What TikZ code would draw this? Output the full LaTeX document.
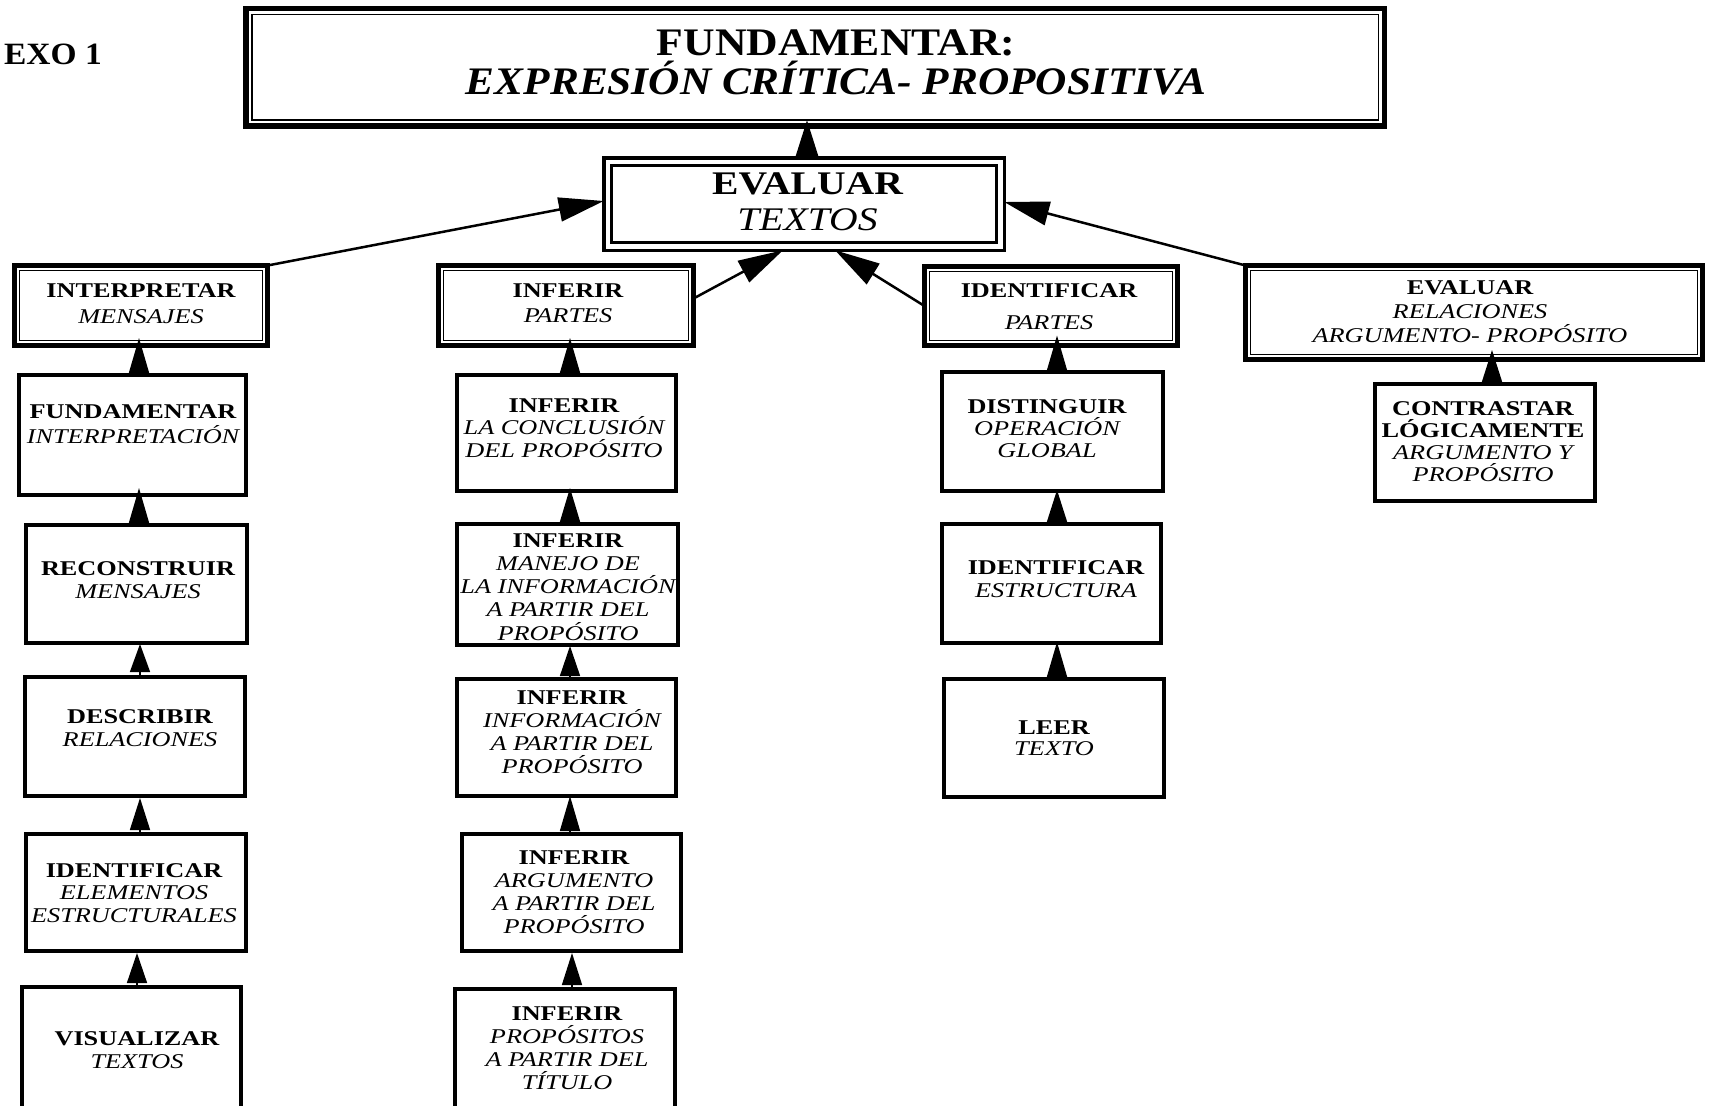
\documentclass[tikz,border=0pt]{standalone}
\usepackage{fontspec}
\setmainfont{Liberation Serif}
\newfontfamily\bxf[FakeStretch=1.25]{Liberation Serif}
\newfontfamily\tfa[FakeStretch=1.12]{Liberation Serif}
\newfontfamily\tfb[FakeStretch=1.11]{Liberation Serif}
\newfontfamily\evf[FakeStretch=1.2]{Liberation Serif}
\newfontfamily\anf[FakeStretch=1.08]{Liberation Serif}
\usetikzlibrary{arrows.meta}
\newcommand\fstr{\rule{0pt}{16pt}}
\newcommand\lstr{\rule[-6pt]{0pt}{6pt}}
\newcommand\innerrect[3]{\draw[line width=#3] ([shift={(#2,-#2)}]#1.north west) rectangle ([shift={(-#2,#2)}]#1.south east);}
\tikzset{
 sbox/.style={draw, line width=4pt, outer sep=0pt, inner sep=0pt},
 dbox/.style={draw, line width=5pt, outer sep=0pt, inner sep=0pt},
 txt/.style={align=center, inner sep=0pt, font=\bxf\fontsize{21}{#1}\selectfont},
 txt/.default=23,
 carrow/.style={line width=1.5pt, -{Triangle[length=#1,width=20pt]}},
 darrow/.style={line width=2.5pt, -{Triangle[length=45pt,width=24pt]}},
}
\begin{document}
\begin{tikzpicture}[x=1pt,y=-1pt]
\useasboundingbox (0,0) rectangle (1712,1105);
\fill[white] (0,0) rectangle (1712,1105);
\clip (0,0) rectangle (1712,1105);

% heading
\node[anchor=base east, inner sep=0pt, font=\anf\fontsize{31}{31}\selectfont\bfseries] (anx) at (102,65) {EXO 1};

% top boxes
\node[draw, line width=5.5pt, outer sep=0pt, inner sep=0pt, minimum width=1138.5pt, minimum height=117.5pt] (T) at (815,67.5) {};
\innerrect{T}{6pt}{1.5pt}
\node[draw, line width=3.5pt, outer sep=0pt, inner sep=0pt, minimum width=400.5pt, minimum height=92.5pt] (EV) at (804,204) {};
\innerrect{EV}{8pt}{3pt}

% level 2
\node[dbox, minimum width=253pt, minimum height=80pt] (A) at (141,305.5) {};
\node[dbox, minimum width=255pt, minimum height=80pt] (B) at (566,305.5) {};
\node[dbox, minimum width=253pt, minimum height=79pt] (C) at (1051,306) {};
\node[dbox, minimum width=457pt, minimum height=94pt] (D) at (1474,312.5) {};
\innerrect{A}{5pt}{1.5pt}
\innerrect{B}{5pt}{1.5pt}
\innerrect{C}{5pt}{1.5pt}
\innerrect{D}{5pt}{1.5pt}

% columns
\node[sbox, minimum width=227pt, minimum height=120pt] (L1) at (132.5,435) {};
\node[sbox, minimum width=221pt, minimum height=118pt] (L2) at (136.5,584) {};
\node[sbox, minimum width=220pt, minimum height=119pt] (L3) at (135,736.5) {};
\node[sbox, minimum width=220pt, minimum height=117pt] (L4) at (136,892.5) {};
\node[sbox, minimum width=219pt, minimum height=146pt] (L5) at (131.5,1060) {};
\node[sbox, minimum width=219pt, minimum height=116pt] (C1) at (566.5,433) {};
\node[sbox, minimum width=221pt, minimum height=121pt] (C2) at (567.5,584.5) {};
\node[sbox, minimum width=219pt, minimum height=117pt] (C3) at (566.5,737.5) {};
\node[sbox, minimum width=219pt, minimum height=117pt] (C4) at (571.5,892.5) {};
\node[sbox, minimum width=220pt, minimum height=144pt] (C5) at (565,1061) {};
\node[sbox, minimum width=221pt, minimum height=119pt] (R1) at (1052.5,431.5) {};
\node[sbox, minimum width=219pt, minimum height=119pt] (R2) at (1051.5,583.5) {};
\node[sbox, minimum width=220pt, minimum height=118pt] (R3) at (1054,738) {};
\node[sbox, minimum width=220pt, minimum height=117pt] (K) at (1485,442.5) {};

% diagonal connectors
\draw[darrow] (A.north east) -- ([yshift=3pt]EV.west);
\draw[darrow] ([yshift=7pt]B.east) -- ([xshift=-21pt]EV.south);
\draw[darrow] (C.west) -- ([xshift=31pt]EV.south);
\draw[darrow] (D.north west) -- ([yshift=2pt]EV.east);

% vertical connectors
\draw[line width=1.5pt, -{Triangle[length=37pt,width=23pt]}, shorten >=-6pt] ([xshift=3pt]EV.north) -- ([xshift=-8pt]T.south);
\draw[carrow=35pt, shorten >=-7.5pt] ([xshift=6.5pt]L1.north) -- ([xshift=-2pt]A.south);
\draw[carrow=35pt, shorten >=-7pt] ([xshift=2.5pt]L2.north) -- ([xshift=6.5pt]L1.south);
\draw[carrow=28pt, shorten >=1pt] ([xshift=5pt]L3.north) -- ([xshift=3.5pt]L2.south);
\draw[carrow=32pt, shorten >=2pt] ([xshift=4pt]L4.north) -- ([xshift=5pt]L3.south);
\draw[carrow=30pt, shorten >=2pt] ([xshift=5.5pt]L5.north) -- ([xshift=1pt]L4.south);
\draw[carrow=35pt, shorten >=-7.5pt] ([xshift=3.5pt]C1.north) -- ([xshift=4pt]B.south);
\draw[carrow=34pt, shorten >=-3pt] ([xshift=2.5pt]C2.north) -- ([xshift=3.5pt]C1.south);
\draw[carrow=30pt, shorten >=1pt] ([xshift=3.5pt]C3.north) -- ([xshift=2.5pt]C2.south);
\draw[carrow=35pt, shorten >=0pt] ([xshift=-1.5pt]C4.north) -- ([xshift=3.5pt]C3.south);
\draw[carrow=32pt, shorten >=2pt] ([xshift=7pt]C5.north) -- ([xshift=0.5pt]C4.south);
\draw[carrow=35pt, shorten >=-10pt] ([xshift=4.5pt]R1.north) -- ([xshift=6pt]C.south);
\draw[carrow=32pt, shorten >=-1pt] ([xshift=5.5pt]R2.north) -- ([xshift=4.5pt]R1.south);
\draw[carrow=35pt, shorten >=-1pt] ([xshift=3pt]R3.north) -- ([xshift=5.5pt]R2.south);
\draw[carrow=32pt, shorten >=-9.5pt] ([xshift=7pt]K.north) -- ([xshift=18pt]D.south);

% texts
\node[align=center, inner sep=0pt, font=\fontsize{39}{39}\selectfont] (Tt) at (836,65.5)
 {\tfa\bfseries\rule{0pt}{30pt}FUNDAMENTAR:\\\tfb\bfseries\itshape EXPRESIÓN CRÍTICA- PROPOSITIVA\rule[-10pt]{0pt}{10pt}};
\node[align=center, inner sep=0pt, font=\evf\fontsize{33}{36}\selectfont] (EVt) at (807.5,204)
 {\evf\bfseries\rule{0pt}{24pt}EVALUAR\\\evf\itshape TEXTOS\rule[-8pt]{0pt}{8pt}};

\node[txt=26] (At) at (141,305) {\bfseries\fstr INTERPRETAR\\\itshape MENSAJES\lstr};
\node[txt=25] (Bt) at (568,304.5) {\bfseries\fstr INFERIR\\\itshape PARTES\lstr};
\node[txt=32] (Ct) at (1049,308) {\bfseries\fstr IDENTIFICAR\\\itshape PARTES\lstr};
\node[txt=24] (Dt) at (1470,313) {\bfseries\fstr EVALUAR\\\itshape RELACIONES\\\itshape ARGUMENTO- PROPÓSITO\lstr};

\node[txt=25.5] (L1t) at (133,425.75) {\bfseries\fstr FUNDAMENTAR\\\itshape INTERPRETACIÓN\lstr};
\node[txt] (L2t) at (138,581.5) {\bfseries\fstr RECONSTRUIR\\\itshape MENSAJES\lstr};
\node[txt] (L3t) at (140,729.5) {\bfseries\fstr DESCRIBIR\\\itshape RELACIONES\lstr};
\node[txt=22.5] (L4t) at (134,894.5) {\bfseries\fstr IDENTIFICAR\\\itshape ELEMENTOS\\\itshape ESTRUCTURALES\lstr};
\node[txt] (L5t) at (137,1051.5) {\bfseries\fstr VISUALIZAR\\\itshape TEXTOS\lstr};

\node[txt=22.5] (C1t) at (564,429.5) {\bfseries\fstr INFERIR\\\itshape LA CONCLUSIÓN\\\itshape DEL PROPÓSITO\lstr};
\node[txt=23.25] (C2t) at (568,588.5) {\bfseries\fstr INFERIR\\\itshape MANEJO DE\\\itshape LA INFORMACIÓN\\\itshape A PARTIR DEL\\\itshape PROPÓSITO\lstr};
\node[txt=23.3] (C3t) at (572,734) {\bfseries\fstr INFERIR\\\itshape INFORMACIÓN\\\itshape A PARTIR DEL\\\itshape PROPÓSITO\lstr};
\node[txt=22.7] (C4t) at (574,894) {\bfseries\fstr INFERIR\\\itshape ARGUMENTO\\\itshape A PARTIR DEL\\\itshape PROPÓSITO\lstr};
\node[txt=22.7] (C5t) at (567,1050) {\bfseries\fstr INFERIR\\\itshape PROPÓSITOS\\\itshape A PARTIR DEL\\\itshape TÍTULO\lstr};

\node[txt=22] (R1t) at (1047,430) {\bfseries\fstr DISTINGUIR\\\itshape OPERACIÓN\\\itshape GLOBAL\lstr};
\node[txt] (R2t) at (1056,580.5) {\bfseries\fstr IDENTIFICAR\\\itshape ESTRUCTURA\lstr};
\node[txt=21] (R3t) at (1054,739.5) {\bfseries\fstr LEER\\\itshape TEXTO\lstr};
\node[txt=22.3] (Kt) at (1483,443.5) {\bfseries\fstr CONTRASTAR\\\bfseries LÓGICAMENTE\\\itshape ARGUMENTO Y\\\itshape PROPÓSITO\lstr};
\end{tikzpicture}
\end{document}
